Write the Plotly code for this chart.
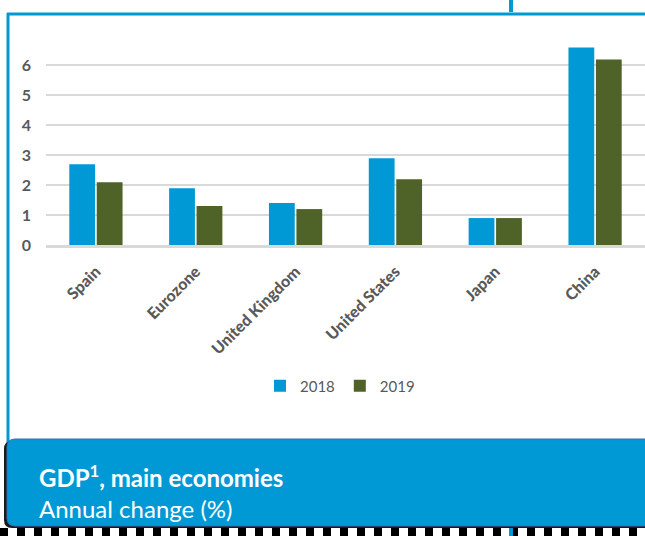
import plotly.graph_objects as go

categories = ["Spain", "Eurozone", "United Kingdom", "United States", "Japan", "China"]
gdp_2018 = [2.7, 1.9, 1.4, 2.9, 0.9, 6.6]
gdp_2019 = [2.1, 1.3, 1.2, 2.2, 0.9, 6.2]
y_ticks = [0, 1, 2, 3, 4, 5, 6]

BLUE = "#0099d5"
GREEN = "#4f6228"
GRAY = "#595959"

W, H = 645, 536
L, R, T, B = 46, 0, 40, 291
pw, ph = W - L - R, H - T - B


def px(x):
    return (x - L) / pw


def py(y):
    return (H - B - y) / ph


fig = go.Figure()
fig.add_bar(x=categories, y=gdp_2018, name="2018", marker=dict(color=BLUE, line=dict(width=0)))
fig.add_bar(x=categories, y=gdp_2019, name="2019", marker=dict(color=GREEN, line=dict(width=0)))

shapes = []
# frame lines
shapes.append(dict(type="line", xref="paper", yref="paper", x0=px(8), x1=px(8), y0=py(13), y1=py(445),
                   line=dict(color=BLUE, width=3), layer="below"))
shapes.append(dict(type="line", xref="paper", yref="paper", x0=px(7), x1=px(650), y0=py(14), y1=py(14),
                   line=dict(color=BLUE, width=3), layer="below"))
shapes.append(dict(type="line", xref="paper", yref="paper", x0=px(511), x1=px(511), y0=py(0), y1=py(12),
                   line=dict(color=BLUE, width=4), layer="below"))
# dashed bottom strip
shapes.append(dict(type="line", xref="paper", yref="paper", x0=px(0), x1=px(650), y0=py(532), y1=py(532),
                   line=dict(color="black", width=8, dash="8px,9px"), layer="above"))
shapes.append(dict(type="line", xref="paper", yref="paper", x0=px(511), x1=px(511), y0=py(527), y1=py(536),
                   line=dict(color=BLUE, width=4), layer="above"))


def rounded(x0, y0, x1, y1, r):
    X0, X1 = px(x0), px(x1)
    return (f"M {px(x0 + r)},{py(y0)} L {X1},{py(y0)} L {X1},{py(y1)} L {px(x0 + r)},{py(y1)} "
            f"Q {X0},{py(y1)} {X0},{py(y1 - r)} L {X0},{py(y0 + r)} Q {X0},{py(y0)} {px(x0 + r)},{py(y0)} Z")


shapes.append(dict(type="path", xref="paper", yref="paper", path=rounded(4, 441, 652, 528, 8),
                   fillcolor="#1a1a1a", line=dict(width=0), layer="above"))
shapes.append(dict(type="path", xref="paper", yref="paper", path=rounded(7, 439, 652, 526, 8),
                   fillcolor=BLUE, line=dict(color="#3f6db0", width=1), layer="above"))

annotations = [
    dict(xref="paper", yref="paper", x=px(37), y=py(476), xanchor="left", yanchor="middle",
         text="<b>GDP<sup>1</sup>, main economies</b>", showarrow=False,
         font=dict(family="Lato", size=24, color="white")),
    dict(xref="paper", yref="paper", x=px(37), y=py(508), xanchor="left", yanchor="middle",
         text="Annual change (%)", showarrow=False,
         font=dict(family="Lato", size=24, color="white")),
]

fig.update_layout(
    width=W, height=H,
    margin=dict(l=L, r=R, t=T, b=B, pad=0),
    paper_bgcolor="white", plot_bgcolor="white",
    barmode="group", bargap=0.45, bargroupgap=0.06,
    font=dict(family="Lato", color=GRAY),
    xaxis=dict(tickangle=-45, tickfont=dict(family="Lato", size=16, color=GRAY, weight=900),
               showline=True, linecolor="#d9d9d9", linewidth=3, ticks="", showgrid=False,
               ticklabelstandoff=8),
    yaxis=dict(range=[0, 6.85], tickvals=y_ticks, showgrid=True, gridcolor="#d9d9d9", gridwidth=2,
               zeroline=False, ticks="", ticklabelstandoff=14,
               tickfont=dict(family="Lato", size=16, color=GRAY, weight="bold")),
    legend=dict(orientation="h", x=px(340), xanchor="center", y=py(386), yanchor="middle",
                font=dict(family="Lato", size=15, color=GRAY), itemwidth=30, traceorder="normal"),
    shapes=shapes, annotations=annotations, showlegend=True,
)

fig.write_html("out.html")
